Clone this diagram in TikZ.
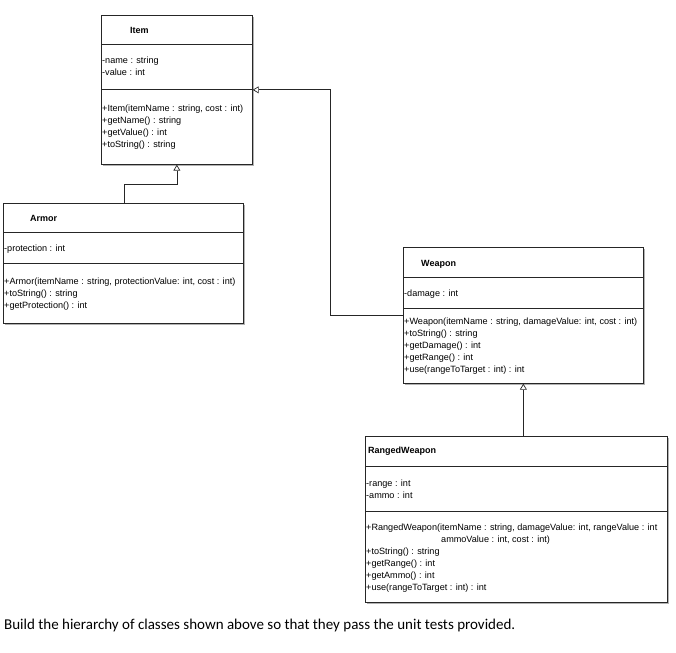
\documentclass[tikz,border=0pt]{standalone}
\usepackage{fontspec}
\newfontfamily\umlfont{Liberation Sans}
\newfontfamily\bodyfont{Carlito}
\usetikzlibrary{arrows.meta}
\tikzset{
  classbox/.style={draw=black!85, line width=0.7pt, fill=white, anchor=north west, inner sep=0pt,
    preaction={fill=black!30, transform canvas={xshift=1.5pt, yshift=-1.5pt}}},
  sep/.style={draw=black!85, line width=0.7pt},
  title/.style={anchor=west, inner sep=0pt, font=\umlfont\bfseries\fontsize{9}{10}\selectfont},
  members/.style={anchor=base west, inner sep=0pt, align=left, font=\umlfont\fontsize{9.1}{12}\selectfont},
  inh/.style={draw=black!85, line width=0.7pt, -{Triangle[open, length=6pt, width=7pt]}},
}
\begin{document}
\begin{tikzpicture}[x=1pt, y=-1pt]
\useasboundingbox (0,0) rectangle (676,652);
% Item
\node[classbox, minimum width=151pt, minimum height=149pt] (item) at (101,15) {};
\draw[sep] (101,44) -- (252,44);
\draw[sep] (101,89) -- (252,89);
\node[title] (itemT) at (130,30) {Item};
\node[members] (itemA) at (102,76) {-name : string\\-value : int};
\node[members] (itemM) at (102,148) {+Item(itemName : string, cost : int)\\+getName() : string\\+getValue() : int\\+toString() : string};
% Armor
\node[classbox, minimum width=240pt, minimum height=120pt] (armor) at (3,203) {};
\draw[sep] (3,232) -- (243,232);
\draw[sep] (3,263) -- (243,263);
\node[title] (armorT) at (30,218) {Armor};
\node[members] (armorA) at (4,251) {-protection : int};
\node[members] (armorM) at (4,308) {+Armor(itemName : string, protectionValue: int, cost : int)\\+toString() : string\\+getProtection() : int};
% Weapon
\node[classbox, minimum width=240pt, minimum height=136pt] (weapon) at (403,247) {};
\draw[sep] (403,277) -- (643,277);
\draw[sep] (403,308) -- (643,308);
\node[title] (weaponT) at (421,264) {Weapon};
\node[members] (weaponA) at (404,296) {-damage : int};
\node[members] (weaponM) at (404,372) {+Weapon(itemName : string, damageValue: int, cost : int)\\+toString() : string\\+getDamage() : int\\+getRange() : int\\+use(rangeToTarget : int) : int};
% RangedWeapon
\node[classbox, minimum width=302pt, minimum height=166pt] (ranged) at (365,436) {};
\draw[sep] (365,466) -- (667,466);
\draw[sep] (365,511) -- (667,511);
\node[title] (rangedT) at (368,451) {RangedWeapon};
\node[members] (rangedA) at (366,498) {-range : int\\-ammo : int};
\node[members] (rangedM1) at (366,530) {+RangedWeapon(itemName : string, damageValue: int, rangeValue : int};
\node[members] (rangedM1b) at (441,542) {ammoValue : int, cost : int)};
\node[members] (rangedM2) at (366,590) {+toString() : string\\+getRange() : int\\+getAmmo() : int\\+use(rangeToTarget : int) : int};
% connectors
\draw[inh] ([xshift=121pt]armor.north west) |- ([yshift=-20pt]item.south) -- (item.south);
\draw[inh] (weapon.west) -- ++(-73,0) |- (item.east);
\draw[inh] (weapon.south |- ranged.north) -- (weapon.south);
% caption
\node[anchor=base west, inner sep=0pt, font=\bodyfont\fontsize{15}{17}\selectfont] (caption) at (4,629) {Build the hierarchy of classes shown above so that they pass the unit tests provided.};
\end{tikzpicture}
\end{document}
